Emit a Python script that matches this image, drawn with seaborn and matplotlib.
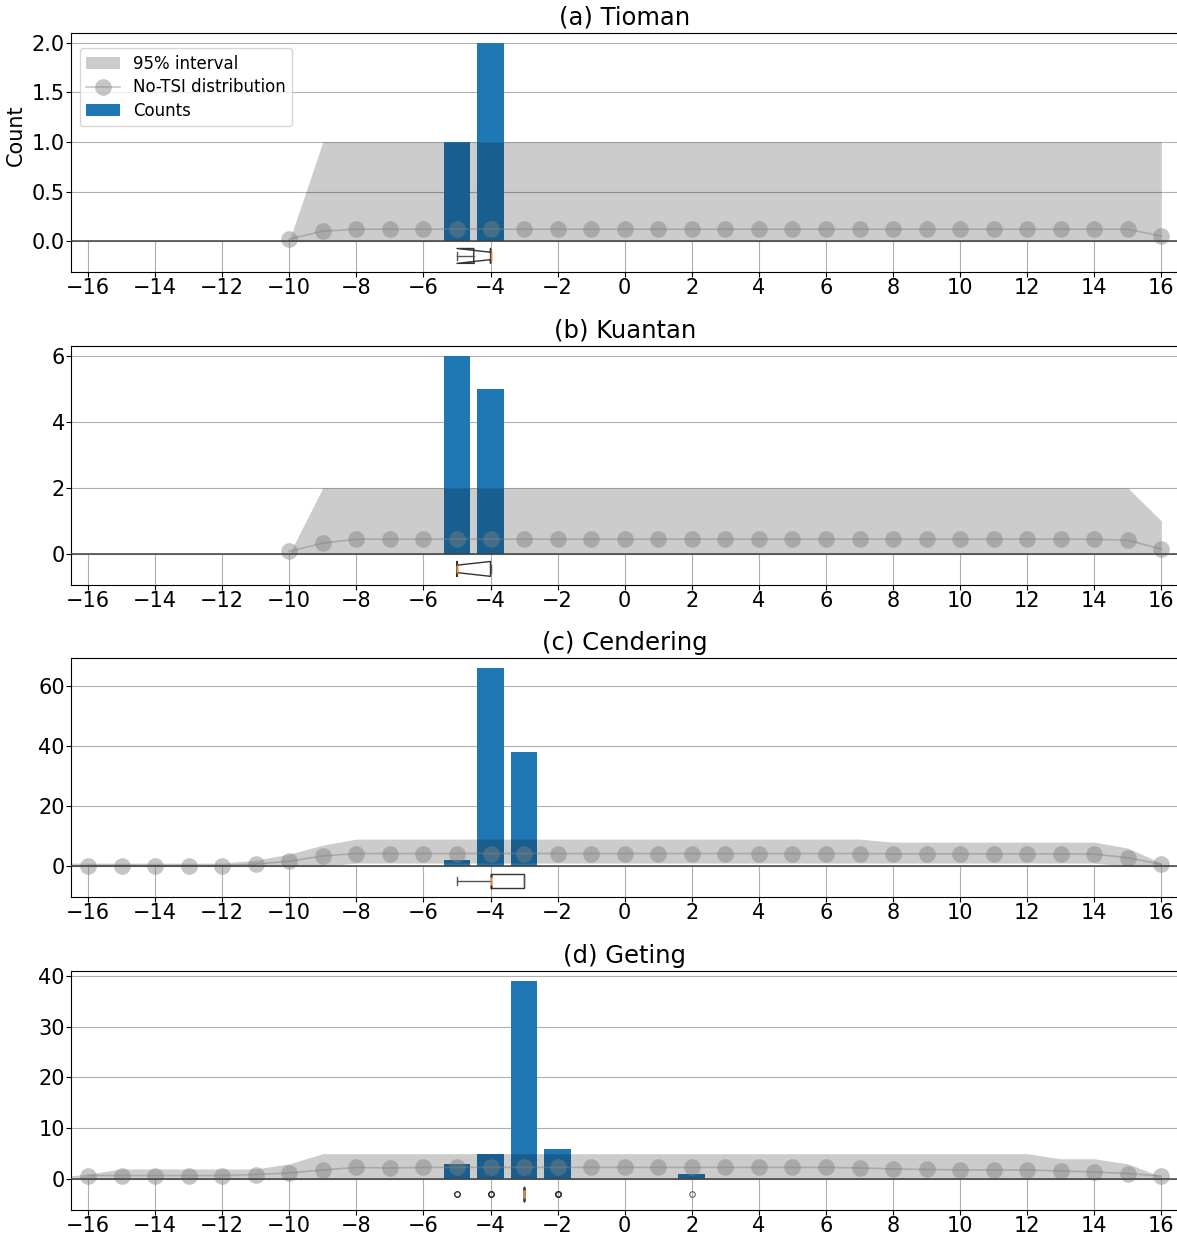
import numpy as np
import matplotlib
matplotlib.use("Agg")
import matplotlib.pyplot as plt
from matplotlib.patches import Patch
from matplotlib.lines import Line2D
import seaborn as sns

# ---- observed TSI counts per offset ----
titles = ["(a) Tioman", "(b) Kuantan", "(c) Cendering", "(d) Geting"]

tioman_x = [-5, -4]
tioman_counts = [1, 2]
kuantan_x = [-5, -4]
kuantan_counts = [6, 5]
cendering_x = [-5, -4, -3]
cendering_counts = [2, 66, 38]
geting_x = [-5, -4, -3, -2, 2]
geting_counts = [3, 5, 39, 6, 1]

# ---- No-TSI null distribution: mean per offset ----
tioman_null_x = list(range(-10, 17))
tioman_null_mean = [0.02, 0.10, 0.12, 0.12, 0.12, 0.12, 0.12, 0.12, 0.12,
                    0.12, 0.12, 0.12, 0.12, 0.12, 0.12, 0.12, 0.12, 0.12,
                    0.12, 0.12, 0.12, 0.12, 0.12, 0.12, 0.12, 0.12, 0.05]
kuantan_null_x = list(range(-10, 17))
kuantan_null_mean = [0.08, 0.33, 0.45, 0.45, 0.45, 0.45, 0.45, 0.45, 0.45,
                     0.45, 0.45, 0.45, 0.45, 0.45, 0.45, 0.45, 0.45, 0.45,
                     0.45, 0.45, 0.45, 0.45, 0.45, 0.45, 0.45, 0.42, 0.15]
cendering_null_x = list(range(-16, 17))
cendering_null_mean = [0.2, 0.2, 0.2, 0.2, 0.2, 0.7, 1.6, 3.4, 4.2, 4.2, 4.2,
                       4.2, 4.2, 4.2, 4.2, 4.2, 4.2, 4.2, 4.2, 4.2, 4.2, 4.2,
                       4.2, 4.2, 4.1, 4.1, 4.1, 4.1, 4.1, 4.1, 4.0, 2.8, 0.6]
geting_null_x = list(range(-16, 17))
geting_null_mean = [0.7, 0.7, 0.7, 0.7, 0.7, 0.9, 1.2, 1.8, 2.3, 2.2,
                    2.3, 2.3, 2.3, 2.3, 2.3, 2.3, 2.3, 2.3, 2.3, 2.3, 2.3,
                    2.3, 2.3,
                    2.2, 2.0, 1.9, 1.8, 1.8, 1.8, 1.6, 1.4, 1.1, 0.6]

# ---- No-TSI 95% interval (lower / upper) ----
tioman_band_x = list(range(-10, 17))
tioman_band_lo = [0] * 27
tioman_band_hi = [0, 1, 1, 1, 1, 1, 1, 1, 1, 1, 1, 1, 1, 1, 1, 1, 1, 1,
                  1, 1, 1, 1, 1, 1, 1, 1, 1]
kuantan_band_x = list(range(-10, 17))
kuantan_band_lo = [0] * 27
kuantan_band_hi = [0, 2, 2, 2, 2, 2, 2, 2, 2, 2, 2, 2, 2, 2, 2, 2, 2, 2,
                   2, 2, 2, 2, 2, 2, 2, 2, 1]
cendering_band_x = list(range(-17, 17))
cendering_band_lo = [0, 0, 0, 0, 0, 0, 0, 0, 0, 1, 1, 1, 1, 1, 1, 1, 1,
                     1, 1, 1, 1, 1, 1, 1, 1, 1, 1, 1, 1, 1, 1, 1, 0, 0]
cendering_band_hi = [1, 1, 1, 1, 1, 1, 2, 4, 7, 9, 9, 9, 9, 9, 9, 9, 9,
                     9, 9, 9, 9, 9, 9, 9, 9, 8, 8, 8, 8, 8, 8, 8, 6, 1]
geting_band_x = list(range(-17, 17))
geting_band_lo = [0] * 34
geting_band_hi = [0.3, 1, 2, 2, 2, 2, 2, 3,
                  5, 5, 5, 5, 5, 5, 5, 5, 5, 5, 5,
                  5, 5, 5, 5, 5, 5, 5, 5, 5, 5, 5,
                  4, 4, 3, 0.5]

# ---- median notch intervals for the offset box plots ----
tioman_notch = (-5.0, -4.0)
kuantan_notch = (-5.0, -4.0)
cendering_notch = (-4.0, -4.0)
geting_notch = (-3.0, -3.0)

xticks = list(range(-16, 17, 2))
yticks = [[0.0, 0.5, 1.0, 1.5, 2.0], [0, 2, 4, 6], [0, 20, 40, 60],
          [0, 10, 20, 30, 40]]

panels = [
    (tioman_x, tioman_counts, tioman_null_x, tioman_null_mean,
     tioman_band_x, tioman_band_lo, tioman_band_hi, tioman_notch),
    (kuantan_x, kuantan_counts, kuantan_null_x, kuantan_null_mean,
     kuantan_band_x, kuantan_band_lo, kuantan_band_hi, kuantan_notch),
    (cendering_x, cendering_counts, cendering_null_x, cendering_null_mean,
     cendering_band_x, cendering_band_lo, cendering_band_hi, cendering_notch),
    (geting_x, geting_counts, geting_null_x, geting_null_mean,
     geting_band_x, geting_band_lo, geting_band_hi, geting_notch),
]

BAR_BLUE = "#1f77b4"
GRID = "#b0b0b0"

fig = plt.figure(figsize=(11.77, 12.38), dpi=100)
bottoms = [0.7803, 0.5275, 0.2754, 0.0226]
ax_h = 0.1931
ax_left = 0.0605
ax_w = 0.9405

for i, (bx, bc, nx, nm, fx, flo, fhi, notch) in enumerate(panels):
    ax = fig.add_axes([ax_left, bottoms[i], ax_w, ax_h])
    ymax = max(bc)
    y_lo = -0.156 * ymax
    y_hi = 1.05 * ymax

    # offset guide lines only in the box-plot strip below zero
    ax.vlines(xticks, y_lo, 0, colors=GRID, lw=0.8, zorder=0.5)

    sns.barplot(x=bx, y=bc, native_scale=True, color=BAR_BLUE,
                saturation=1, width=0.8, ax=ax, zorder=2)

    ax.fill_between(fx, flo, fhi, color="black", alpha=0.2, lw=0, zorder=3)

    sns.lineplot(x=nx, y=nm, marker="o", markersize=12, color="gray",
                 alpha=0.45, lw=1.2, markeredgewidth=0, ax=ax, zorder=4)

    ax.axhline(0, color="#404040", lw=1.1, zorder=5)

    raw = np.repeat(bx, bc)
    ax.boxplot([raw], positions=[-0.075 * ymax], widths=0.075 * ymax,
               orientation="horizontal", notch=True,
               conf_intervals=[notch], manage_ticks=False,
               boxprops=dict(color="#333333", lw=1),
               whiskerprops=dict(color="#555555", lw=1),
               capprops=dict(color="#555555", lw=1),
               medianprops=dict(color="#ff7f0e", lw=1),
               flierprops=dict(marker="o", markersize=4,
                               markerfacecolor="none",
                               markeredgecolor="#333333",
                               markeredgewidth=0.6),
               zorder=6)

    ax.set_xlim(-16.5, 16.5)
    ax.set_ylim(y_lo, y_hi)
    ax.set_xticks(xticks)
    ax.set_xticklabels([f"\u2212{abs(t)}" if t < 0 else str(t) for t in xticks])
    ax.set_yticks(yticks[i])
    ax.set_axisbelow(True)
    ax.xaxis.grid(False)
    ax.yaxis.grid(True, color=GRID, lw=0.8)
    ax.tick_params(labelsize=15, pad=1)
    ax.set_xlabel("")
    ax.set_ylabel("")
    ax.set_title(titles[i], fontsize=17.5)

    if i == 0:
        ax.set_ylabel("Count", fontsize=15)
        ax.yaxis.set_label_coords(-0.0407, 0.573)
        handles = [
            Patch(facecolor="black", alpha=0.2, lw=0, label="95% interval"),
            Line2D([0], [0], color="gray", alpha=0.45, lw=1.2, marker="o",
                   markersize=12, markeredgewidth=0,
                   label="No-TSI distribution"),
            Patch(facecolor=BAR_BLUE, label="Counts"),
        ]
        ax.legend(handles=handles, loc="upper left", fontsize=12,
                  bbox_to_anchor=(0.0, 0.97), labelspacing=0.32)

fig.savefig("out.png", dpi=100)
